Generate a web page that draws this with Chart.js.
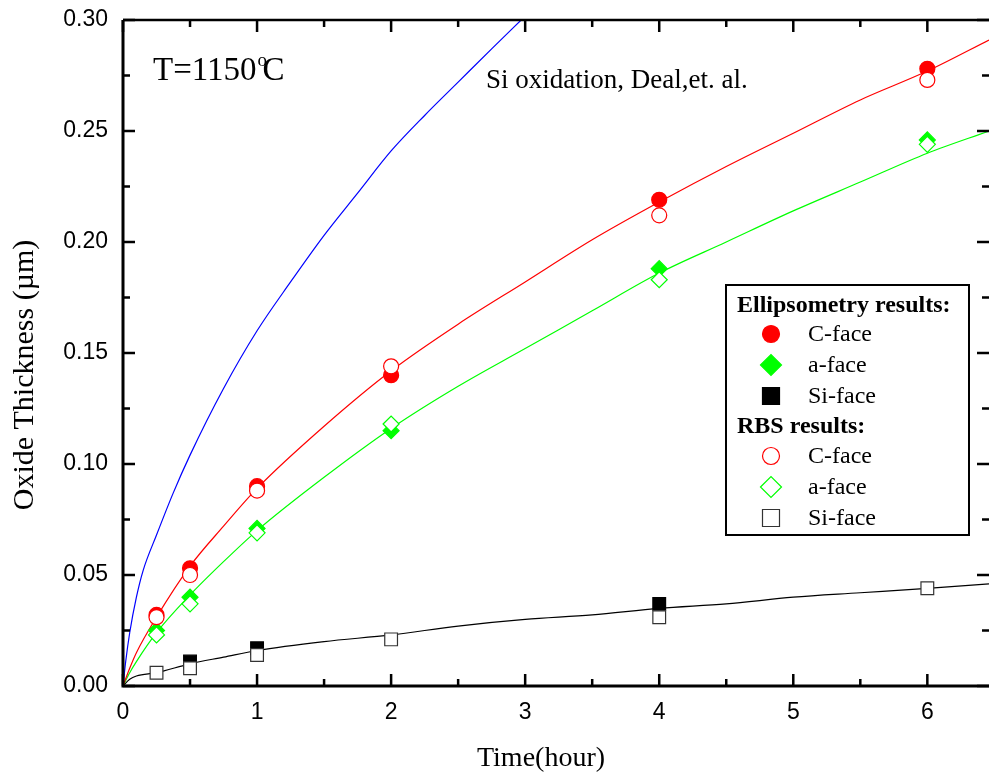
<!DOCTYPE html>
<html>
<head>
<meta charset="utf-8">
<script src="https://cdn.jsdelivr.net/npm/chart.js@4.4.1/dist/chart.umd.min.js"></script>
<style>
html, body { margin: 0; padding: 0; background: #fff; }
#wrap { width: 989px; height: 779px; }
</style>
</head>
<body>
<div id="wrap"><canvas id="oxideChart" width="989" height="779"></canvas></div>
<script>
// ==================== Data ====================
const xTicks = [0, 1, 2, 3, 4, 5, 6];
const xTickLabels = ['0', '1', '2', '3', '4', '5', '6'];
const yTicks = [0, 0.05, 0.10, 0.15, 0.20, 0.25, 0.30];
const yTickLabels = ['0.00', '0.05', '0.10', '0.15', '0.20', '0.25', '0.30'];

// measured points (time in hour, thickness in um)
const ellipTimes = [0.25, 0.5, 1, 2, 4, 6];
const ellipC = [0.032, 0.053, 0.090, 0.140, 0.219, 0.278];
const ellipA = [0.025, 0.040, 0.071, 0.115, 0.188, 0.246];
const ellipSiTimes = [0.5, 1, 4];
const ellipSi = [0.011, 0.017, 0.037];
const rbsTimes = [0.25, 0.5, 1, 2, 4, 6];
const rbsC = [0.031, 0.050, 0.088, 0.144, 0.212, 0.273];
const rbsA = [0.023, 0.037, 0.069, 0.118, 0.183, 0.244];
const rbsSi = [0.006, 0.008, 0.014, 0.021, 0.031, 0.044];

// fitted curves
const fitTimes = [0, 0.05, 0.1, 0.25, 0.5, 0.75, 1, 1.5, 2, 2.5, 3, 3.5, 4, 4.5, 5, 5.5, 6, 6.46];
const fitC = [0, 0.008, 0.015, 0.031, 0.054, 0.072, 0.089, 0.117, 0.142, 0.163, 0.182, 0.201, 0.218, 0.234, 0.249, 0.264, 0.277, 0.291];
const fitA = [0, 0.006, 0.011, 0.024, 0.041, 0.056, 0.070, 0.094, 0.116, 0.135, 0.152, 0.169, 0.186, 0.200, 0.214, 0.227, 0.240, 0.250];
const fitSi = [0, 0.003, 0.0045, 0.006, 0.010, 0.013, 0.016, 0.020, 0.023, 0.027, 0.030, 0.032, 0.035, 0.037, 0.040, 0.042, 0.044, 0.046];
// Si oxidation, Deal et al.
const dealTimes = [0, 0.02, 0.05, 0.1, 0.15, 0.25, 0.375, 0.5, 0.75, 1, 1.25, 1.5, 1.75, 2, 2.25, 2.5, 2.75, 2.97];
const dealSi = [0, 0.011, 0.024, 0.040, 0.052, 0.068, 0.087, 0.104, 0.134, 0.160, 0.182, 0.203, 0.222, 0.241, 0.257, 0.272, 0.287, 0.300];

const RED = '#ff0000';
const GREEN = '#00ff00';
const BLUE = '#0000ff';
const BLACK = '#000000';
const SERIF = "'Liberation Serif', 'Times New Roman', serif";
const SANS = "'Liberation Sans', Arial, sans-serif";

function toPoints(xs, ys) {
    return xs.map((x, i) => ({ x: x, y: ys[i] }));
}

function curve(xs, ys, color) {
    return {
        data: toPoints(xs, ys),
        showLine: true,
        borderColor: color,
        borderWidth: 1.2,
        pointRadius: 0,
        cubicInterpolationMode: 'monotone',
        order: 3
    };
}

function marks(xs, ys, style, radius, fill, stroke, order) {
    return {
        data: toPoints(xs, ys),
        showLine: false,
        pointStyle: style,
        pointRadius: radius,
        pointBackgroundColor: fill,
        pointBorderColor: stroke,
        pointBorderWidth: 1.2,
        order: order
    };
}

// scale padding from tick labels would shrink the plot box
function noPad(s) {
    s.paddingTop = 0; s.paddingBottom = 0; s.paddingLeft = 0; s.paddingRight = 0;
}

// ==================== Marker helper (legend) ====================
function drawMarker(ctx, style, x, y, r, fill, stroke) {
    ctx.beginPath();
    if (style === 'circle') {
        ctx.arc(x, y, r, 0, Math.PI * 2);
    } else if (style === 'rectRot') {
        ctx.moveTo(x - r, y); ctx.lineTo(x, y - r); ctx.lineTo(x + r, y); ctx.lineTo(x, y + r);
        ctx.closePath();
    } else {
        ctx.rect(x - r, y - r, 2 * r, 2 * r);
    }
    ctx.fillStyle = fill;
    ctx.fill();
    ctx.lineWidth = 1.2;
    ctx.strokeStyle = stroke;
    ctx.stroke();
}

const legendRows = [
    { title: 'Ellipsometry results:' },
    { style: 'circle', r: 8.5, fill: RED, stroke: RED, text: 'C-face' },
    { style: 'rectRot', r: 10.5, fill: GREEN, stroke: GREEN, text: 'a-face' },
    { style: 'rect', r: 8.5, fill: BLACK, stroke: BLACK, text: 'Si-face' },
    { title: 'RBS results:' },
    { style: 'circle', r: 8.5, fill: '#fff', stroke: RED, text: 'C-face' },
    { style: 'rectRot', r: 10.5, fill: '#fff', stroke: GREEN, text: 'a-face' },
    { style: 'rect', r: 8.5, fill: '#fff', stroke: '#333', text: 'Si-face' }
];

// ==================== Frame, ticks, texts, legend ====================
const frameBox = {
    id: 'frameBox',
    afterDraw(chart) {
        const { ctx, chartArea: a, scales } = chart;
        const sx = scales.x, sy = scales.y;
        ctx.save();
        ctx.strokeStyle = BLACK;

        // axis lines
        ctx.lineWidth = 3;
        ctx.beginPath();
        ctx.moveTo(a.left, a.top);
        ctx.lineTo(a.left, a.bottom);
        ctx.lineTo(a.right, a.bottom);
        ctx.stroke();
        ctx.lineWidth = 2.5;
        ctx.beginPath();
        ctx.moveTo(a.left, a.top);
        ctx.lineTo(a.right, a.top);
        ctx.stroke();

        // inward ticks on all four sides
        ctx.lineWidth = 2.5;
        const major = 12, minor = 7;
        ctx.beginPath();
        xTicks.forEach(v => {
            const px = sx.getPixelForValue(v);
            ctx.moveTo(px, a.bottom); ctx.lineTo(px, a.bottom - major);
            ctx.moveTo(px, a.top); ctx.lineTo(px, a.top + major);
            const m = v + 0.5;
            if (m < sx.max) {
                const pm = sx.getPixelForValue(m);
                ctx.moveTo(pm, a.bottom); ctx.lineTo(pm, a.bottom - minor);
                ctx.moveTo(pm, a.top); ctx.lineTo(pm, a.top + minor);
            }
        });
        yTicks.forEach(v => {
            const py = sy.getPixelForValue(v);
            ctx.moveTo(a.left, py); ctx.lineTo(a.left + major, py);
            ctx.moveTo(a.right, py); ctx.lineTo(a.right - major, py);
            const m = v + 0.025;
            if (m < sy.max) {
                const pm = sy.getPixelForValue(m);
                ctx.moveTo(a.left, pm); ctx.lineTo(a.left + minor, pm);
                ctx.moveTo(a.right, pm); ctx.lineTo(a.right - minor, pm);
            }
        });
        ctx.stroke();

        // annotations
        ctx.fillStyle = BLACK;
        ctx.textBaseline = 'alphabetic';
        ctx.textAlign = 'left';
        ctx.font = '33px ' + SERIF;
        let tx = 153;
        ctx.fillText('T=1150', tx, 80);
        tx += ctx.measureText('T=1150').width;
        ctx.font = '19px ' + SERIF;
        ctx.fillText('o', tx + 1, 66);
        ctx.font = '33px ' + SERIF;
        ctx.fillText('C', tx + 6, 80);

        ctx.font = '27px ' + SERIF;
        ctx.fillText('Si oxidation, Deal,et. al.', 486, 88);

        // axis titles
        ctx.font = '28px ' + SERIF;
        ctx.textAlign = 'center';
        ctx.textBaseline = 'middle';
        ctx.fillText('Time(hour)', 541, 759);
        ctx.save();
        ctx.translate(25, 375);
        ctx.rotate(-Math.PI / 2);
        ctx.font = '30px ' + SERIF;
        ctx.fillText('Oxide Thickness (\u00b5m)', 0, 0);
        ctx.restore();

        // legend box
        ctx.fillStyle = '#fff';
        ctx.fillRect(726, 285, 243, 250);
        ctx.lineWidth = 2;
        ctx.strokeStyle = BLACK;
        ctx.strokeRect(726, 285, 243, 250);
        ctx.textAlign = 'left';
        ctx.textBaseline = 'alphabetic';
        const baselines = [312, 341, 372, 403, 433, 463, 494, 525];
        legendRows.forEach((row, i) => {
            const by = baselines[i];
            ctx.fillStyle = BLACK;
            if (row.title) {
                ctx.font = 'bold 24px ' + SERIF;
                ctx.fillText(row.title, 737, by);
            } else {
                drawMarker(ctx, row.style, 771, by - 7, row.r, row.fill, row.stroke);
                ctx.fillStyle = BLACK;
                ctx.font = '24px ' + SERIF;
                ctx.fillText(row.text, 808, by);
            }
        });
        ctx.restore();
    }
};

// ==================== Chart ====================
const ctx = document.getElementById('oxideChart').getContext('2d');
new Chart(ctx, {
    type: 'scatter',
    data: {
        datasets: [
            curve(dealTimes, dealSi, BLUE),
            curve(fitTimes, fitC, RED),
            curve(fitTimes, fitA, GREEN),
            curve(fitTimes, fitSi, BLACK),
            marks(ellipTimes, ellipC, 'circle', 7.5, RED, RED, 2),
            marks(ellipTimes, ellipA, 'rectRot', 8, GREEN, GREEN, 2),
            marks(ellipSiTimes, ellipSi, 'rect', 9, BLACK, BLACK, 2),
            marks(rbsTimes, rbsC, 'circle', 7.5, '#fff', RED, 1),
            marks(rbsTimes, rbsA, 'rectRot', 8, '#fff', GREEN, 1),
            marks(rbsTimes, rbsSi, 'rect', 9, '#fff', '#333', 1)
        ]
    },
    options: {
        responsive: false,
        devicePixelRatio: 1,
        animation: false,
        layout: { autoPadding: false, padding: { top: 20, right: 0, bottom: 0, left: 0 } },
        plugins: {
            legend: { display: false },
            tooltip: { enabled: false }
        },
        scales: {
            x: {
                type: 'linear',
                min: 0,
                max: 6.46,
                afterBuildTicks: s => { s.ticks = xTicks.map(v => ({ value: v })); },
                afterFit: s => { s.height = 93; noPad(s); },
                grid: { display: false, drawTicks: false },
                border: { display: false },
                ticks: {
                    autoSkip: false,
                    maxRotation: 0,
                    padding: 13,
                    color: BLACK,
                    font: { family: SANS, size: 23 },
                    callback: (v, i) => xTickLabels[i]
                }
            },
            y: {
                type: 'linear',
                min: 0,
                max: 0.30,
                afterBuildTicks: s => { s.ticks = yTicks.map(v => ({ value: v })); },
                afterFit: s => { s.width = 123; noPad(s); },
                grid: { display: false, drawTicks: false },
                border: { display: false },
                ticks: {
                    autoSkip: false,
                    padding: 15,
                    color: BLACK,
                    font: { family: SANS, size: 23 },
                    callback: (v, i) => yTickLabels[i]
                }
            }
        }
    },
    plugins: [frameBox]
});
</script>
</body>
</html>
